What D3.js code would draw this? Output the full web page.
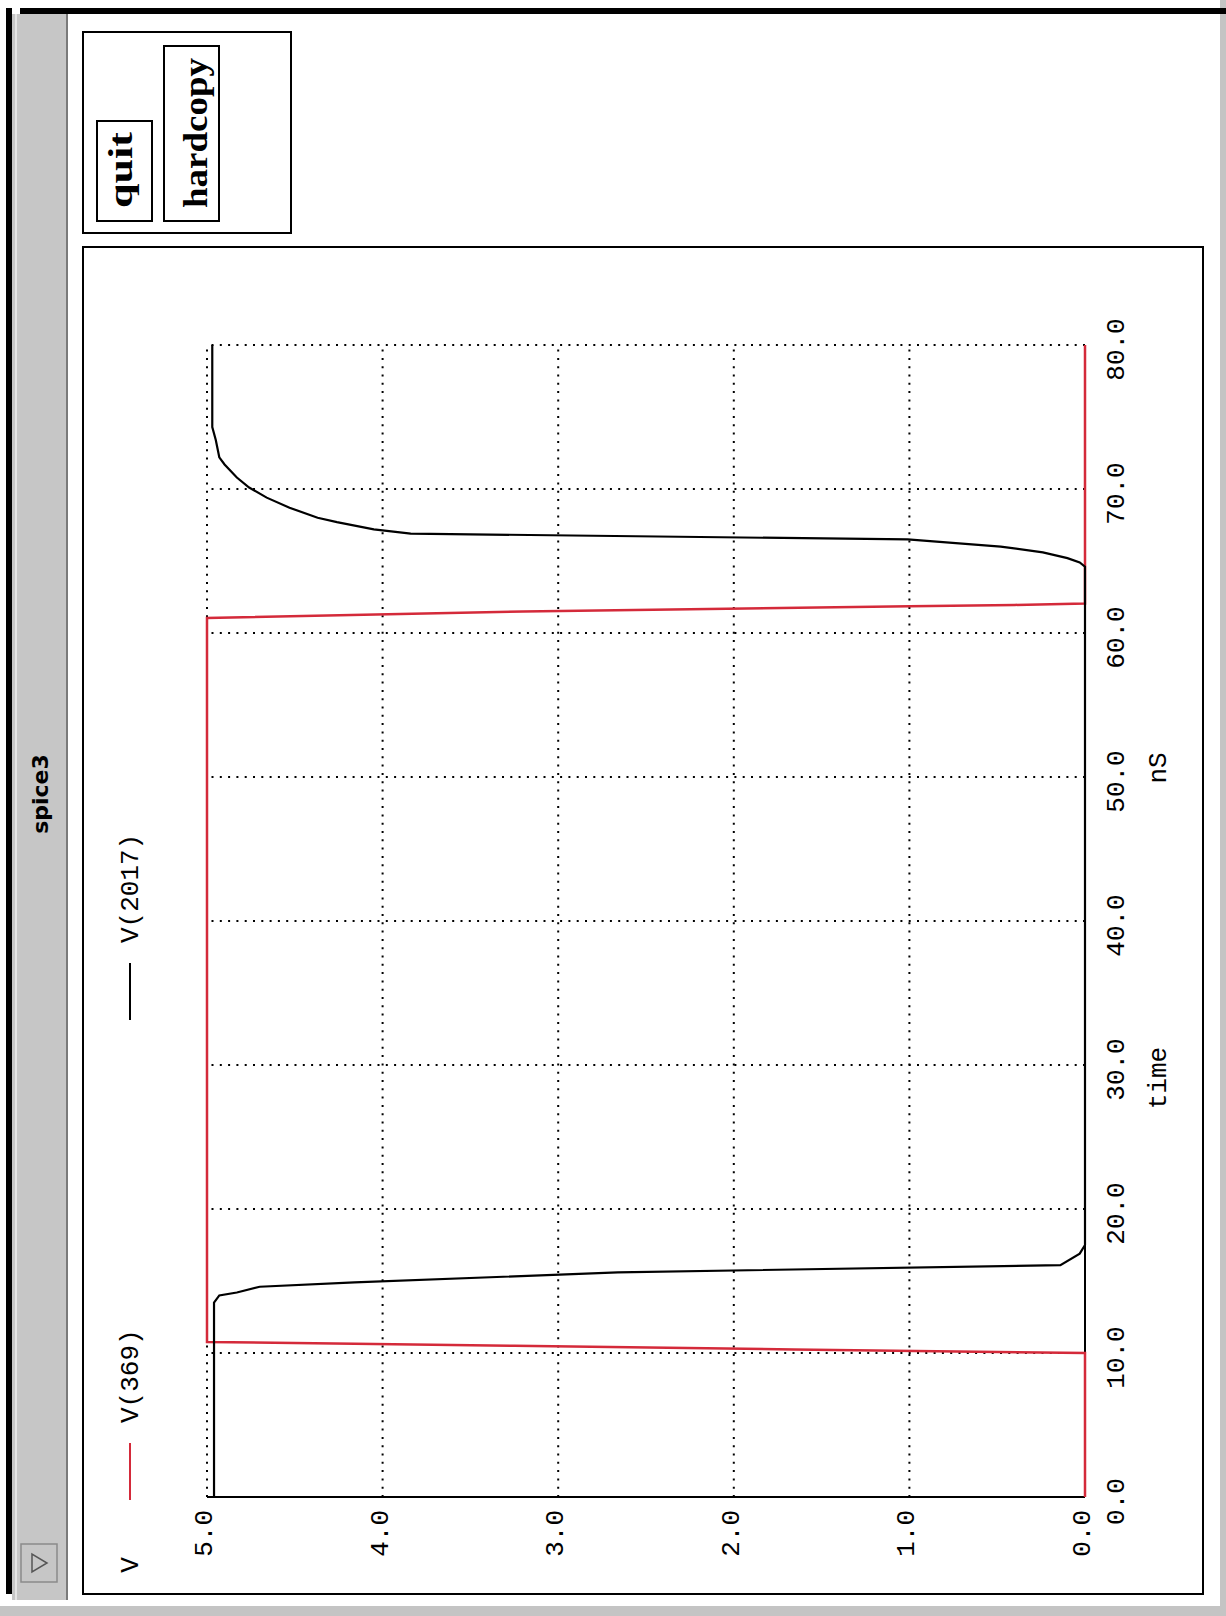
<!DOCTYPE html>
<html>
<head>
<meta charset="utf-8">
<script src="https://cdn.jsdelivr.net/npm/d3@7"></script>
<style>
  body { margin: 0; background: #fff; }
  svg { display: block; }
</style>
</head>
<body>
<svg width="1226" height="1616"></svg>
<script>

  // axis ticks
  var timeTicks = [0, 10, 20, 30, 40, 50, 60, 70, 80];   // nS
  var voltTicks = [0, 1, 2, 3, 4, 5];                    // V

  // V(369) - red input pulse
  var v369Time = [0, 10.0, 10.25, 10.5, 10.65, 10.76, 61.05, 61.5, 61.85, 61.95, 62.05, 80];
  var v369Volt = [0, 0, 1.66, 3.25, 4.16, 5.0, 5.0, 3.2, 1.0, 0.4, 0, 0];

  // V(2017) - black output
  var v2017Time = [0, 13.5, 14.0, 14.2, 14.6, 14.9, 15.6, 16.1, 16.9, 17.5, 64.6, 64.9, 65.2, 65.6, 66.0, 66.5,
                   66.9, 67.2, 67.7, 68.0, 68.7, 69.4, 70.1, 70.8, 71.7, 72.2, 73.4, 74.3, 80];
  var v2017Volt = [4.96, 4.96, 4.93, 4.83, 4.70, 4.16, 2.66, 0.14, 0.03, 0, 0, 0.03, 0.10, 0.24, 0.48, 1.01,
                   3.84, 4.05, 4.26, 4.37, 4.53, 4.66, 4.76, 4.83, 4.90, 4.93, 4.95, 4.97, 4.97];

  var legendNames = ["V(369)", "V(2017)"];
  var legendColors = ["#d42a3a", "#000"];

  var svg = d3.select("svg"),
      mono = "'Liberation Mono', 'DejaVu Sans Mono', monospace";

  // the window was captured turned a quarter turn, so draw it flat and rotate
  var win = svg.append("g").attr("transform", "translate(0,1616) rotate(-90)");

  // window frame
  win.append("rect").attr("x", 0).attr("y", 1220).attr("width", 1616).attr("height", 6).attr("fill", "#c4c4c4");
  win.append("rect").attr("x", 0).attr("y", 0).attr("width", 10).attr("height", 1226).attr("fill", "#c4c4c4");
  win.append("rect").attr("x", 1602).attr("y", 20).attr("width", 6).attr("height", 1206).attr("fill", "#000");
  win.append("rect").attr("x", 22).attr("y", 6).attr("width", 1586).attr("height", 6).attr("fill", "#000");
  win.append("rect").attr("x", 16).attr("y", 12).attr("width", 1586).attr("height", 55).attr("fill", "#c6c6c6");
  win.append("line").attr("x1", 16).attr("x2", 1602).attr("y1", 16).attr("y2", 16).attr("stroke", "#e4e4e4").attr("stroke-width", 2);
  win.append("line").attr("x1", 16).attr("x2", 1602).attr("y1", 67).attr("y2", 67).attr("stroke", "#7a7a7a").attr("stroke-width", 2);

  win.append("text").attr("x", 822).attr("y", 48)
      .attr("text-anchor", "middle")
      .attr("font-family", "'DejaVu Sans', sans-serif").attr("font-weight", "bold").attr("font-size", 22)
      .text("spice3");

  // menu button in title bar
  win.append("rect").attr("x", 34).attr("y", 21).attr("width", 38).attr("height", 36)
      .attr("fill", "#c6c6c6").attr("stroke", "#8a8a8a").attr("stroke-width", 1.5);
  win.append("path").attr("d", "M44,32L62,32L53,47Z").attr("fill", "none").attr("stroke", "#555").attr("stroke-width", 1.5);

  // button panel
  win.append("rect").attr("x", 1383).attr("y", 83).attr("width", 201).attr("height", 208)
      .attr("fill", "none").attr("stroke", "#000").attr("stroke-width", 2);
  var buttons = [
    {label: "quit", x: 1395, y: 97, w: 100, len: 76, base: 132},
    {label: "hardcopy", x: 1395, y: 164, w: 175, len: 150, base: 207}
  ];
  buttons.forEach(function(b) {
    win.append("rect").attr("x", b.x).attr("y", b.y).attr("width", b.w).attr("height", 55)
        .attr("fill", "none").attr("stroke", "#000").attr("stroke-width", 2);
    win.append("text").attr("x", 1408).attr("y", b.base)
        .attr("font-family", "'Liberation Serif', 'DejaVu Serif', serif").attr("font-weight", "bold")
        .attr("font-size", 34).attr("textLength", b.len).attr("lengthAdjust", "spacingAndGlyphs")
        .text(b.label);
  });

  // plot panel
  win.append("rect").attr("x", 22).attr("y", 83).attr("width", 1347).attr("height", 1120)
      .attr("fill", "none").attr("stroke", "#000").attr("stroke-width", 2);

  var x = d3.scaleLinear().domain([0, 80]).range([119, 1271]),
      y = d3.scaleLinear().domain([0, 5]).range([1085, 207]);

  // dotted grid
  var grid = win.append("g").attr("stroke", "#000").attr("stroke-width", 2).attr("stroke-dasharray", "2,6.3");
  grid.selectAll(".gx").data(timeTicks.slice(1)).enter().append("line")
      .attr("x1", function(d) { return x(d); }).attr("x2", function(d) { return x(d); })
      .attr("y1", y(0)).attr("y2", y(5));
  grid.selectAll(".gy").data(voltTicks.slice(1)).enter().append("line")
      .attr("y1", function(d) { return y(d); }).attr("y2", function(d) { return y(d); })
      .attr("x1", x(0)).attr("x2", x(80));

  // solid axes
  win.append("line").attr("x1", x(0)).attr("x2", x(80)).attr("y1", y(0)).attr("y2", y(0))
      .attr("stroke", "#000").attr("stroke-width", 2);
  win.append("line").attr("x1", x(0)).attr("x2", x(0)).attr("y1", y(0)).attr("y2", y(5))
      .attr("stroke", "#000").attr("stroke-width", 2);

  // tick labels
  var fmt = d3.format(".1f");
  win.append("g").attr("transform", "translate(0," + y(0) + ")")
      .call(d3.axisBottom(x).tickValues(timeTicks).tickFormat(fmt).tickSize(0).tickPadding(21))
      .call(function(g) { g.select(".domain").remove(); })
      .attr("font-family", mono).attr("font-size", 26)
      .selectAll("text").attr("dx", -5);
  win.append("g").attr("transform", "translate(" + x(0) + ",0)")
      .call(d3.axisLeft(y).tickValues(voltTicks).tickFormat(fmt).tickSize(0).tickPadding(13))
      .call(function(g) { g.select(".domain").remove(); })
      .attr("font-family", mono).attr("font-size", 26)
      .selectAll("text").attr("dy", "0.17em");

  win.append("text").attr("x", 538).attr("y", 1166).attr("text-anchor", "middle")
      .attr("font-family", mono).attr("font-size", 26).text("time");
  win.append("text").attr("x", 848).attr("y", 1166).attr("text-anchor", "middle")
      .attr("font-family", mono).attr("font-size", 26).text("nS");

  // traces
  var line = d3.line().x(function(d) { return x(d[0]); }).y(function(d) { return y(d[1]); });
  win.append("path").datum(d3.zip(v369Time, v369Volt)).attr("d", line)
      .attr("fill", "none").attr("stroke", legendColors[0]).attr("stroke-width", 2.5);
  win.append("path").datum(d3.zip(v2017Time, v2017Volt)).attr("d", line)
      .attr("fill", "none").attr("stroke", legendColors[1]).attr("stroke-width", 2.2);

  // legend
  win.append("text").attr("x", 51).attr("y", 138).attr("text-anchor", "middle")
      .attr("font-family", mono).attr("font-size", 26).text("V");
  var legendX = [116, 596];
  legendNames.forEach(function(name, i) {
    win.append("line").attr("x1", legendX[i]).attr("x2", legendX[i] + 57).attr("y1", 130).attr("y2", 130)
        .attr("stroke", legendColors[i]).attr("stroke-width", 2);
    win.append("text").attr("x", legendX[i] + 77).attr("y", 138)
        .attr("font-family", mono).attr("font-size", 26).text(name);
  });

</script>
</body>
</html>
